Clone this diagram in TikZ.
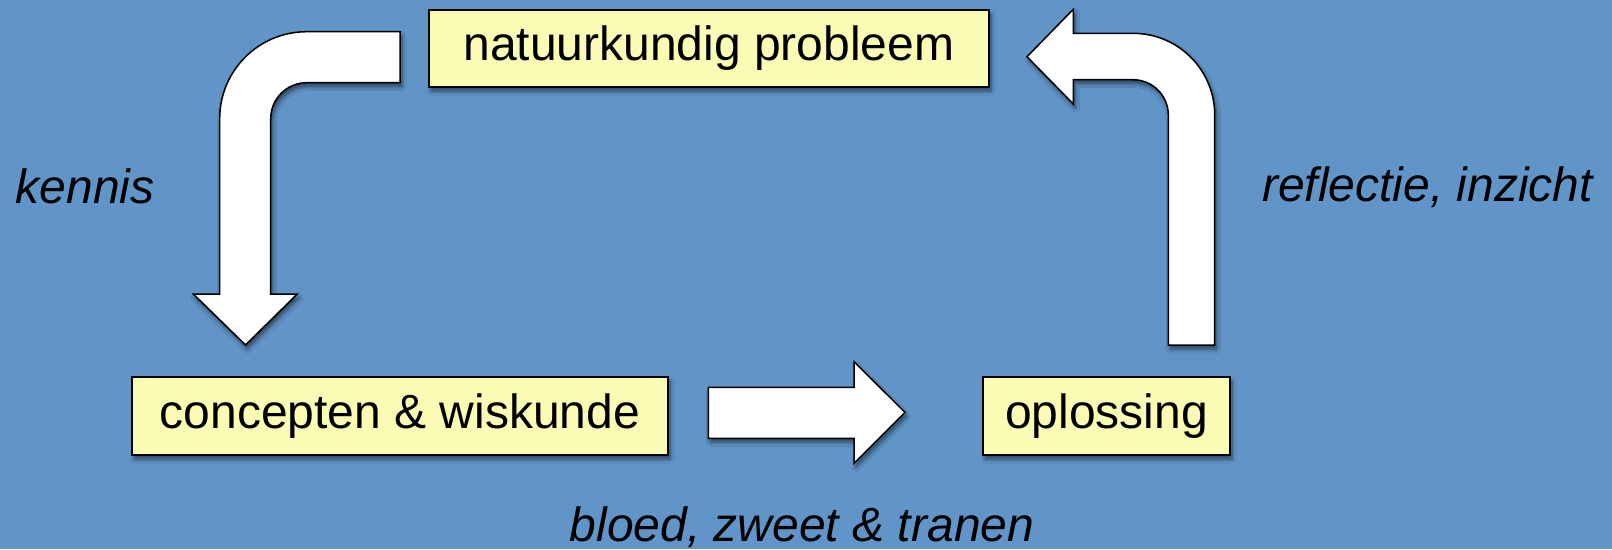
\documentclass[tikz,border=0pt]{standalone}
\usepackage{fontspec}
\setmainfont{Liberation Sans}
\usetikzlibrary{shadows.blur}
\definecolor{bgblue}{RGB}{97,149,200}
\definecolor{boxyellow}{RGB}{250,252,182}
\begin{document}
\begin{tikzpicture}[x=1pt,y=1pt,
  shadowed/.style={blur shadow={shadow xshift=2pt,shadow yshift=-4pt,shadow blur radius=4pt,shadow blur steps=6,shadow opacity=55}},
  box/.style={draw=black,line width=1.5pt,fill=boxyellow,inner sep=0pt,
    font=\fontsize{48}{58}\selectfont,shadowed},
  blockarrow/.style={draw=black,line width=1.5pt,fill=white,line join=miter,shadowed},
  label/.style={font=\fontsize{48}{58}\selectfont\itshape,anchor=base,inner sep=0pt}]
\fill[bgblue] (0,0) rectangle (1612,-549);
\useasboundingbox (0,0) rectangle (1612,-549);
% boxes
\node[box,minimum width=560pt,minimum height=77pt] (prob) at (709,-48.5) {natuurkundig probleem};
\node[box,minimum width=536pt,minimum height=78pt] (conc) at (400,-416) {concepten \& wiskunde};
\node[box,minimum width=247pt,minimum height=78pt] (opl) at (1106.5,-416) {oplossing};
% block arrows
\draw[blockarrow] (400,-31.7) -- (306.7,-31.7) arc[start angle=90,end angle=180,radius=87]
  -- (219.7,-294) -- (193.3,-294) -- (245.5,-345) -- (297.3,-294) -- (270.7,-294)
  -- (270.7,-118.7) arc[start angle=180,end angle=90,radius=36] -- (400,-82.7) -- cycle;
\draw[blockarrow] (708.3,-387.3) -- (854,-387.3) -- (854,-361.7) -- (905,-412.3)
  -- (854,-463.3) -- (854,-438.3) -- (708.3,-438.3) -- cycle;
\draw[blockarrow] (1027,-56.7) -- (1073.3,-9.3) -- (1073.3,-33.3) -- (1133,-33.3)
  arc[start angle=90,end angle=0,radius=81.7] -- (1214.7,-345) -- (1168.3,-345)
  -- (1168.3,-115) arc[start angle=0,end angle=90,radius=35.3] -- (1073.3,-79.7)
  -- (1073.3,-104) -- cycle;
% labels
\node[label] (kennis) at (85,-203) {kennis};
\node[label] (refl) at (1427.5,-201.7) {reflectie, inzicht};
\node[label] (bloed) at (802,-541.7) {bloed, zweet \& tranen};
\end{tikzpicture}
\end{document}
